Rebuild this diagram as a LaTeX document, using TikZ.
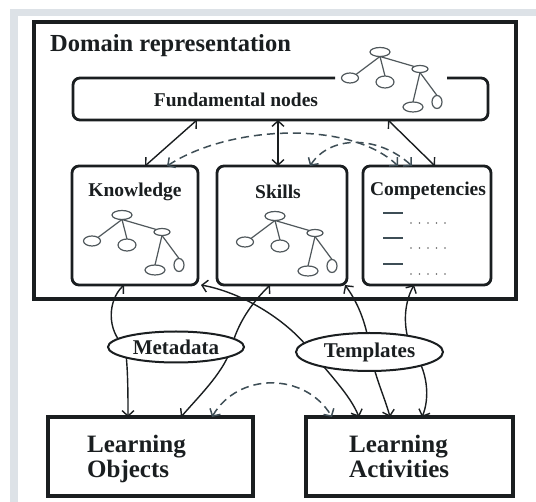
\documentclass[tikz,border=0pt]{standalone}
\usepackage{fontspec}
\setmainfont{Liberation Serif}
\usetikzlibrary{arrows.meta,shapes.geometric,calc}
\definecolor{ink}{HTML}{1A1E20}
\definecolor{treec}{HTML}{50585C}
\definecolor{dashc}{HTML}{3E4E56}
\definecolor{shadowc}{HTML}{DDE2E7}
\tikzset{
  tnode/.style={ellipse,draw=treec,line width=1.2pt,fill=white,inner sep=0pt,outer sep=0pt},
  tline/.style={draw=treec,line width=1.2pt},
  tree/.pic={
    \node[tnode,minimum width=20pt,minimum height=9pt]  (-r) at (0,0) {};
    \node[tnode,minimum width=17pt,minimum height=10pt] (-a) at (-30,26) {};
    \node[tnode,minimum width=18pt,minimum height=12pt] (-b) at (5,30) {};
    \node[tnode,minimum width=16pt,minimum height=7pt]  (-c) at (40,17) {};
    \node[tnode,minimum width=20pt,minimum height=10pt] (-d) at (33,55) {};
    \node[tnode,minimum width=10pt,minimum height=13pt] (-e) at (57,50) {};
    \draw[tline] (-r.south) -- (-a.north east);
    \draw[tline] (-r.south) -- (-b.north);
    \draw[tline] (-r.south) -- (-c.north west);
    \draw[tline] (-c.south) -- (-d.north);
    \draw[tline] (-c.south) -- (-e.north);
  },
  outerbox/.style={draw=ink,line width=3.8pt,inner sep=0pt,outer sep=0pt},
  rbox/.style={draw=ink,line width=2.8pt,rounded corners=7pt,inner sep=0pt,outer sep=0pt},
  lbox/.style={draw=ink,line width=3.4pt,inner sep=0pt,outer sep=0pt},
  oval/.style={ellipse,draw=ink,line width=2pt,fill=white,inner sep=0pt,
    font=\fontsize{21}{21}\selectfont\bfseries,text=ink},
  lbl/.style={inner sep=0pt,text=ink,font=\fontsize{19.5}{20}\selectfont\bfseries},
  biglbl/.style={inner sep=0pt,anchor=base west,text=ink,font=\fontsize{25}{25}\selectfont\bfseries},
  conn/.style={draw=ink,line width=1.4pt,
    {Straight Barb[length=5.5pt,width=12pt]}-{Straight Barb[length=5.5pt,width=12pt]}},
  dconn/.style={conn,draw=dashc,line width=1.5pt,dash pattern=on 8pt off 5pt},
}
\begin{document}
\begin{tikzpicture}[x=1pt,y=-1pt]
\useasboundingbox (0,0) rectangle (536,502);
\fill[white] (0,0) rectangle (536,502);
% panel shadow
\fill[shadowc] (10,9) rectangle (536,16);
\fill[shadowc] (10,9) rectangle (18,502);

% domain box
\node[outerbox,minimum width=482pt,minimum height=277pt] (dom) at (275,160.5) {};
\node[anchor=base west,inner sep=0pt,text=ink,font=\fontsize{24.5}{26}\selectfont\bfseries]
  (title) at (50,52) {Domain representation};

% fundamental nodes box (top edge interrupted by the tree)
\node[inner sep=0pt,outer sep=0pt,minimum width=415pt,minimum height=42pt] (fund) at (280.5,99) {};
\draw[draw=ink,line width=2.8pt,rounded corners=7pt]
  (335,78) -- (fund.north west) -- (fund.south west) -- (fund.south east) -- (fund.north east) -- (447,78);
\node[lbl,anchor=base] (fundlbl) at (236,107) {Fundamental nodes};
\pic (ftree) at (380,52) {tree};

% three inner boxes
\node[rbox,minimum width=126pt,minimum height=119pt] (know) at (135,225.5) {};
\node[rbox,minimum width=130pt,minimum height=119pt] (skil) at (282,225.5) {};
\node[rbox,minimum width=128pt,minimum height=119pt] (comp) at (427,225.5) {};
\node[lbl,anchor=base] (knowlbl) at (135,197) {Knowledge};
\node[lbl,anchor=base] (skillbl) at (278,199) {Skills};
\node[lbl,anchor=base] (complbl) at (428,196) {Competencies};
\pic (ktree) at (122,215) {tree};
\pic (stree) at (275,216) {tree};
% competency list
\foreach \yy in {213,238,264} {
  \draw[dashc,line width=1.8pt] (383,\yy) -- (403,\yy);
  \foreach \xx in {411,419.5,428,436.5,445}
    \fill[gray!80!black] (\xx,\yy+10) circle (0.9pt);
}

% learning boxes
\node[lbox,minimum width=205pt,minimum height=79pt] (lo) at (150.5,456.5) {};
\node[lbox,minimum width=207pt,minimum height=79pt] (la) at (409.5,456.5) {};
\node[biglbl] (lo1) at (87,453) {Learning};
\node[biglbl] (lo2) at (87,478) {Objects};
\node[biglbl] (la1) at (349,453) {Learning};
\node[biglbl] (la2) at (349,478) {Activities};

% connectors between fundamental nodes and the three boxes
\draw[conn] ($(fund.south)+(-83.5,0)$) -- ($(know.north)+(10,0)$);
\draw[conn] ($(fund.south)+(-2.5,0)$) -- ($(skil.north)+(-4,0)$);
\draw[conn] ($(fund.south)+(107.5,0)$) -- ($(comp.north)+(8,0)$);
\draw[dconn] ($(know.north)+(32,0)$) .. controls (230,125) and (350,120) .. ($(comp.north)+(-29,0)$);
\draw[dconn] ($(skil.north)+(28,0)$) .. controls (330,135) and (378,135) .. ($(comp.north)+(-15,0)$);

% connectors to learning objects / activities
\draw[conn] ($(know.south)+(-11,0)$) .. controls (108,300) and (106,330) .. (125,347)
  .. controls (128,365) and (128,395) .. ($(lo.north)+(-22.5,0)$);
\draw[conn] ($(skil.south)+(-12,0)$) .. controls (255,300) and (240,318) .. (232,345)
  .. controls (226,370) and (200,395) .. ($(lo.north)+(30.5,0)$);
\draw[conn] ($(know.south east)+(3,0)$) .. controls (240,292) and (285,318) .. (310,350)
  .. controls (330,375) and (350,395) .. ($(la.north)+(-50.5,0)$);
\draw[conn] ($(skil.south east)+(-2,0)$) .. controls (356,300) and (366,320) .. (370,350)
  .. controls (374,375) and (385,398) .. ($(la.north)+(-19.5,0)$);
\draw[conn] ($(comp.south)+(-13,0)$) .. controls (403,305) and (403,330) .. (412,350)
  .. controls (428,370) and (430,398) .. ($(la.north)+(12.5,0)$);
\draw[dconn] ($(lo.north)+(61.5,0)$) .. controls (238,372) and (305,372) .. ($(la.north)+(-77.5,0)$);

% ovals drawn over the connectors
\node[oval,minimum width=136pt,minimum height=31pt] (meta) at (176,347) {Metadata};
\node[oval,minimum width=147pt,minimum height=38pt] (tmpl) at (369.5,352) {Templates};
\end{tikzpicture}
\end{document}
